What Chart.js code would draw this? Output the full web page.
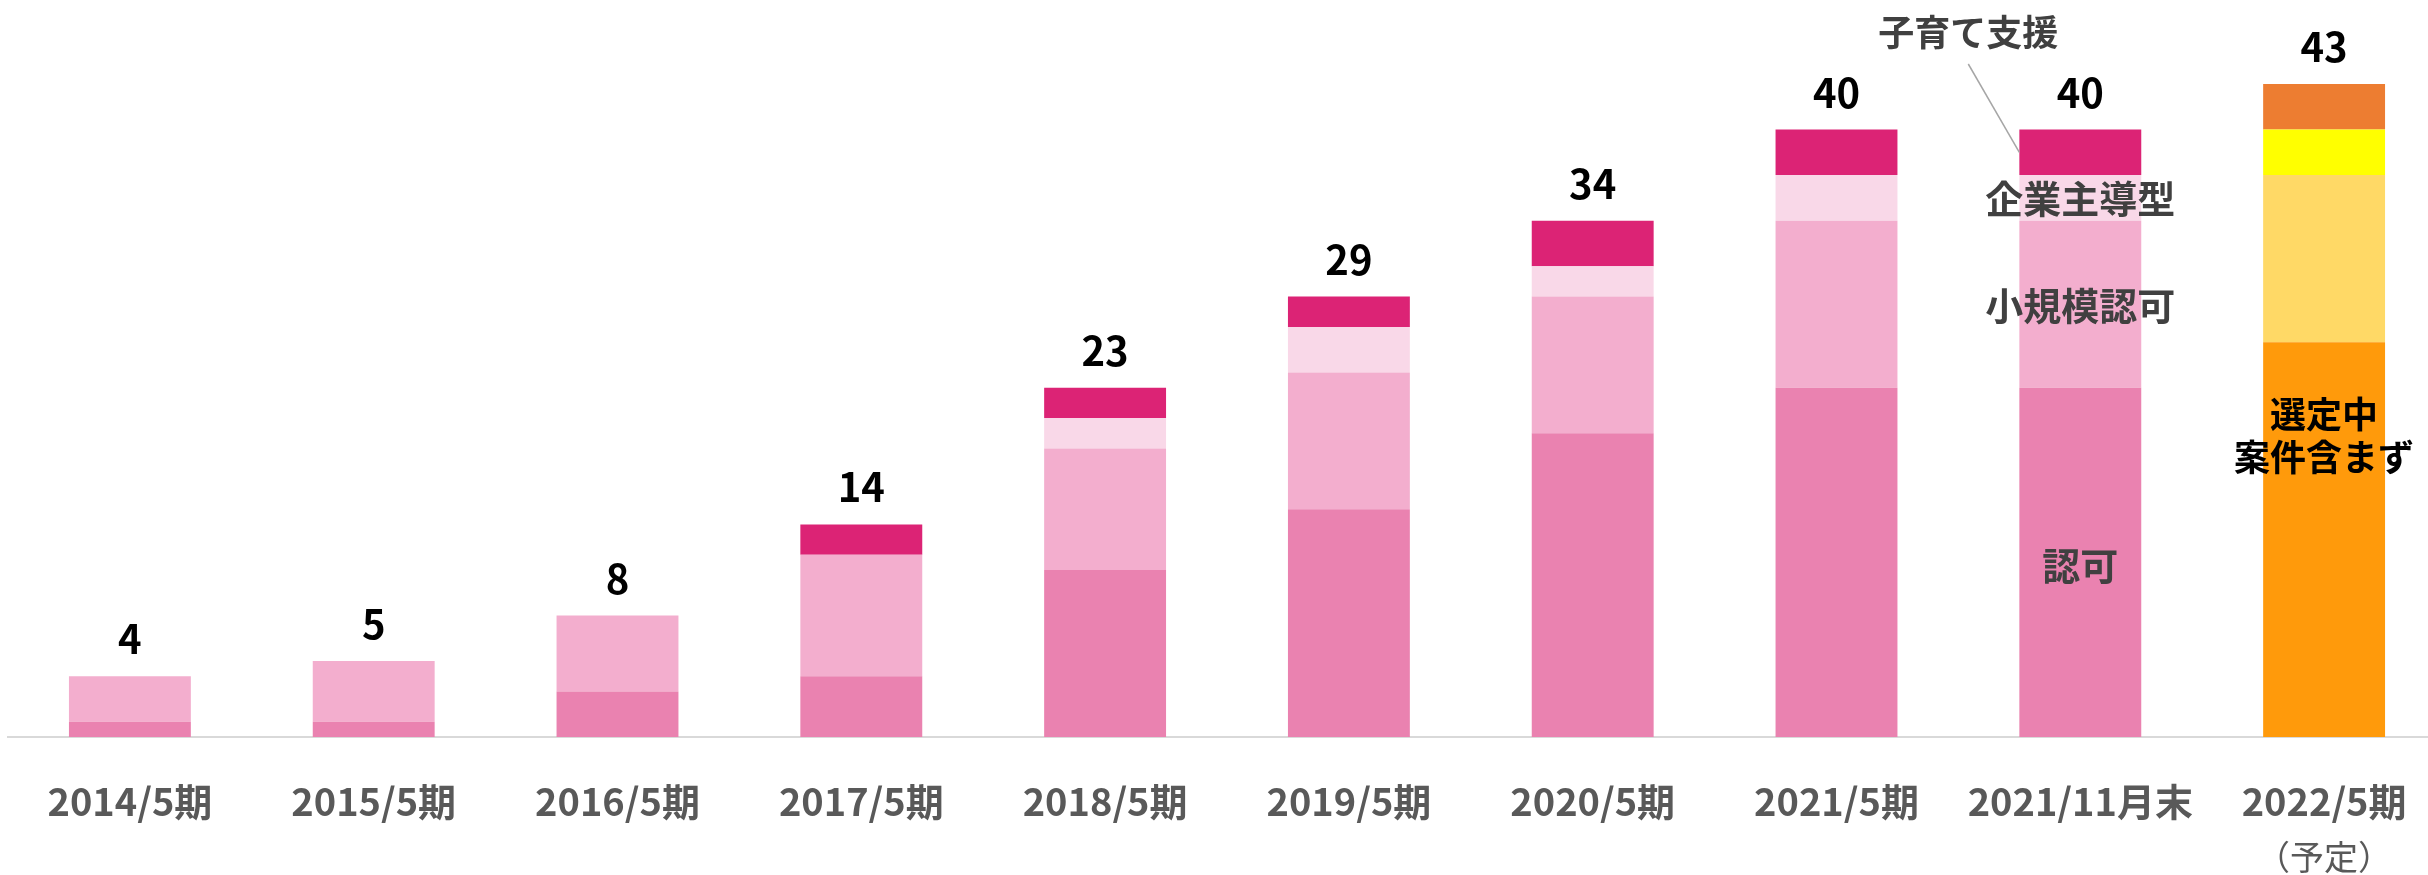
<!DOCTYPE html>
<html lang="ja">
<head>
<meta charset="UTF-8">
<title>施設数の推移</title>
<script src="https://cdn.jsdelivr.net/npm/chart.js"></script>
<style>
    html, body { margin: 0; padding: 0; background: #fff; overflow: hidden; }
    .chart-div { width: 2446px; height: 875px; position: relative; }
</style>
</head>
<body>
<div class="chart-div">
    <canvas id="facilityChart"></canvas>
</div>
<script>
    // periods on the x axis
    const periods = ['2014/5期', '2015/5期', '2016/5期', '2017/5期', '2018/5期',
                     '2019/5期', '2020/5期', '2021/5期', '2021/11月末', '2022/5期'];

    // number of facilities by type (stacked bottom -> top)
    const ninka    = [1, 1, 3, 4, 11, 15, 20, 23, 23, 26];   // 認可
    const shoukibo = [3, 4, 5, 8,  8,  9,  9, 11, 11, 11];   // 小規模認可
    const kigyou   = [0, 0, 0, 0,  2,  3,  2,  3,  3,  3];   // 企業主導型
    const kosodate = [0, 0, 0, 2,  2,  2,  3,  3,  3,  3];   // 子育て支援

    const pinkColors = ['#EA82B0', '#F3AECE', '#F9D8E8', '#DC2375'];
    const planColors = ['#FF9A0B', '#FFD966', '#FFFF00', '#ED7D31'];
    const lastIdx = periods.length - 1;

    function colorsFor(k) {
        return periods.map((p, j) => j === lastIdx ? planColors[k] : pinkColors[k]);
    }

    const FONT = '"Noto Sans CJK JP", "Noto Sans", sans-serif';

    // totals above bars + the labels written on the 2021/11 and 2022 bars
    const labelPlugin = {
        id: 'barLabels',
        afterDatasetsDraw(chart) {
            const ctx = chart.ctx;
            const yScale = chart.scales.y;
            const xScale = chart.scales.x;
            const bars = i => chart.getDatasetMeta(i).data;
            const mid = el => (el.y + el.base) / 2;

            ctx.save();
            ctx.textAlign = 'center';

            ctx.font = 'bold 40px ' + FONT;
            ctx.fillStyle = '#000000';
            ctx.textBaseline = 'alphabetic';
            for (let j = 0; j < periods.length; j++) {
                let total = ninka[j] + shoukibo[j] + kigyou[j] + kosodate[j];
                ctx.fillText(String(total), bars(0)[j].x, yScale.getPixelForValue(total) - 22);
            }

            // legend-like labels on 2021/11月末
            const b = 8;
            ctx.font = 'bold 38px ' + FONT;
            ctx.fillStyle = '#404040';
            ctx.textBaseline = 'middle';
            ctx.fillText('認可', bars(0)[b].x, mid(bars(0)[b]) + 3);
            ctx.fillText('小規模認可', bars(1)[b].x, mid(bars(1)[b]) + 1);
            ctx.fillText('企業主導型', bars(2)[b].x, mid(bars(2)[b]) + 1);

            const top = bars(3)[b];
            const lx = top.x - 112;
            ctx.font = 'bold 36px ' + FONT;
            ctx.fillText('子育て支援', lx, 32);
            ctx.strokeStyle = '#A6A6A6';
            ctx.lineWidth = 1.5;
            ctx.beginPath();
            ctx.moveTo(lx, 64);
            ctx.lineTo(top.x - top.width / 2, mid(top));
            ctx.stroke();

            // 2022 note
            const p = bars(0)[lastIdx];
            ctx.fillStyle = '#000000';
            ctx.fillText('選定中', p.x, p.y + 72);
            ctx.fillText('案件含まず', p.x, p.y + 115);

            ctx.fillStyle = '#595959';
            ctx.font = '34px ' + FONT;
            ctx.fillText('（予定）', xScale.getPixelForValue(lastIdx), 857);

            ctx.restore();
        }
    };

    let ctx = document.getElementById('facilityChart').getContext('2d');
    let myChart = new Chart(ctx, {
        type: 'bar',
        data: {
            labels: periods,
            datasets: [
                { label: '認可', data: ninka, backgroundColor: colorsFor(0) },
                { label: '小規模認可', data: shoukibo, backgroundColor: colorsFor(1) },
                { label: '企業主導型', data: kigyou, backgroundColor: colorsFor(2) },
                { label: '子育て支援', data: kosodate, backgroundColor: colorsFor(3) }
            ]
        },
        options: {
            responsive: true,
            maintainAspectRatio: false,
            animation: false,
            layout: { padding: { top: 8, left: 8, right: 0, bottom: 0 } },
            datasets: {
                bar: { categoryPercentage: 1.0, barPercentage: 0.5, borderWidth: 0 }
            },
            scales: {
                x: {
                    stacked: true,
                    offset: true,
                    grid: { display: false },
                    border: { display: true, color: '#D9D9D9', width: 2 },
                    ticks: {
                        color: '#595959',
                        font: { family: FONT, size: 38, weight: 'bold' },
                        padding: 34,
                        maxRotation: 0,
                        autoSkip: false
                    },
                    afterFit: s => { s.height = 138; }
                },
                y: {
                    stacked: true,
                    display: false,
                    min: 0,
                    max: 48
                }
            },
            plugins: {
                legend: { display: false },
                tooltip: { enabled: false }
            }
        },
        plugins: [labelPlugin]
    });
</script>
</body>
</html>
